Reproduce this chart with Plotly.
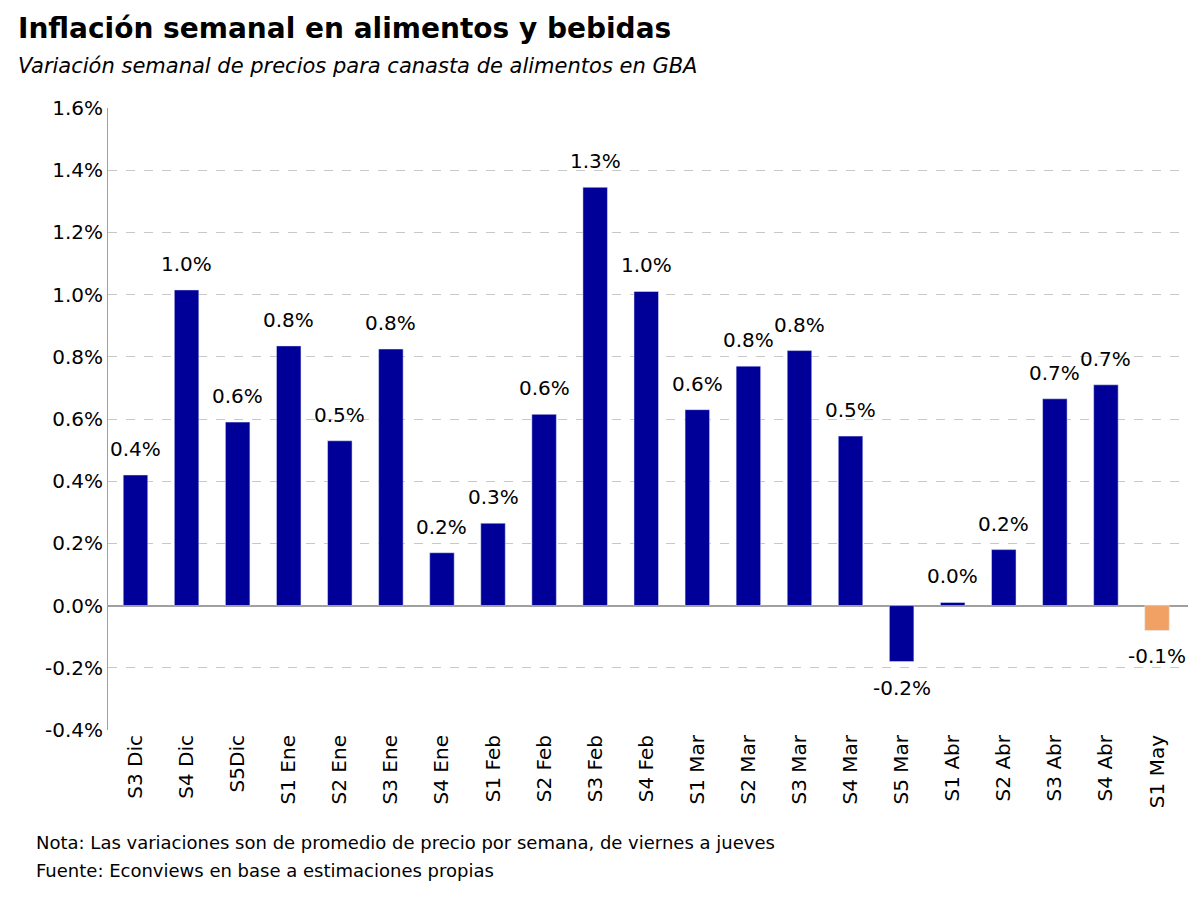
import plotly.graph_objects as go

# datos
semanas = ["S3 Dic", "S4 Dic", "S5Dic", "S1 Ene", "S2 Ene", "S3 Ene", "S4 Ene", "S1 Feb",
           "S2 Feb", "S3 Feb", "S4 Feb", "S1 Mar", "S2 Mar", "S3 Mar", "S4 Mar", "S5 Mar",
           "S1 Abr", "S2 Abr", "S3 Abr", "S4 Abr", "S1 May"]
variacion = [0.42, 1.015, 0.59, 0.835, 0.53, 0.825, 0.17, 0.265, 0.615, 1.345, 1.01, 0.63,
             0.77, 0.82, 0.545, -0.18, 0.01, 0.18, 0.665, 0.71, -0.08]
etiquetas = ["0.4%", "1.0%", "0.6%", "0.8%", "0.5%", "0.8%", "0.2%", "0.3%", "0.6%", "1.3%",
             "1.0%", "0.6%", "0.8%", "0.8%", "0.5%", "-0.2%", "0.0%", "0.2%", "0.7%", "0.7%",
             "-0.1%"]
y_ticks = [-0.4, -0.2, 0.0, 0.2, 0.4, 0.6, 0.8, 1.0, 1.2, 1.4, 1.6]

colores = ["#000099"] * (len(semanas) - 1) + ["#F2A165"]

fig = go.Figure(go.Bar(
    x=semanas, y=variacion, marker_color=colores, width=0.48,
))

# etiquetas de datos como anotaciones (mas anchas que las barras)
for s, v, t in zip(semanas, variacion, etiquetas):
    fig.add_annotation(x=s, y=v, text=t, showarrow=False,
                       yanchor="bottom" if v >= 0 else "top",
                       yshift=12 if v >= 0 else -12,
                       font=dict(size=20, color="black"))

fig.update_layout(
    width=1200, height=907,
    paper_bgcolor="white", plot_bgcolor="white",
    font=dict(family="DejaVu Sans", color="black"),
    margin=dict(l=100, r=20, t=100, b=185),
    showlegend=False,
)
fig.add_annotation(text="<b>Inflación semanal en alimentos y bebidas</b>", x=0, y=1.0,
                   xref="paper", yref="paper", xanchor="left", yanchor="top",
                   showarrow=False, xshift=-92, yshift=98, font=dict(size=28))
fig.add_annotation(text="<i>Variación semanal de precios para canasta de alimentos en GBA</i>",
                   x=0, y=1.0, xref="paper", yref="paper", xanchor="left", yanchor="top",
                   showarrow=False, xshift=-92, yshift=56, font=dict(size=21))
fig.add_annotation(text="Nota: Las variaciones son de promedio de precio por semana, de viernes a jueves",
                   x=0, y=0, xref="paper", yref="paper", xanchor="left", yanchor="top",
                   showarrow=False, xshift=-74, yshift=-100, font=dict(size=18))
fig.add_annotation(text="Fuente: Econviews en base a estimaciones propias",
                   x=0, y=0, xref="paper", yref="paper", xanchor="left", yanchor="top",
                   showarrow=False, xshift=-74, yshift=-128, font=dict(size=18))

fig.update_yaxes(
    range=[-0.4, 1.6], tickvals=y_ticks,
    ticktext=[f"{v:.1f}%" for v in y_ticks], tickfont=dict(size=20),
    showgrid=True, gridcolor="#C8C8C8", griddash="dash",
    zeroline=True, zerolinecolor="#A0A0A0", zerolinewidth=1.5,
    showline=True, linecolor="#A0A0A0", ticks="", ticklen=0,
)
fig.update_xaxes(
    tickangle=-90, tickfont=dict(size=20), showline=False, ticks="",
)

fig.write_html("out.html")
